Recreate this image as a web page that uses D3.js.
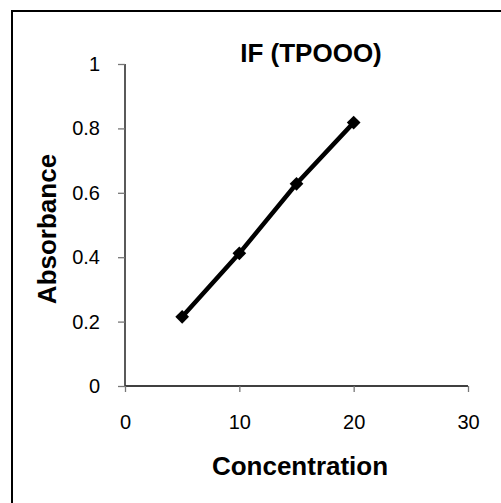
<!DOCTYPE html>
<html>
<head>
    <meta charset='utf-8'>
    <title>IF (TPOOO)</title>
    <script src='https://d3js.org/d3.v7.min.js'></script>
    <style>
        body { margin: 0; background: #fff; }
        text { font-family: 'Liberation Sans', Arial, sans-serif; fill: #000; }
    </style>
</head>
<body>
<div id='chart'></div>
<script type='text/javascript'>
    // dados
    let concentration = [5, 10, 15, 20];
    let absorbance = [0.215, 0.412, 0.628, 0.818];
    let xTicks = [0, 10, 20, 30];
    let yTicks = [0, 0.2, 0.4, 0.6, 0.8, 1];

    let W = 501, H = 503;
    let margin = {top: 64, right: 33, bottom: 117, left: 125};
    let w = W - margin.left - margin.right;
    let h = H - margin.top - margin.bottom;

    let root = d3.select('#chart')
        .append('svg')
            .attr('width', W)
            .attr('height', H);

    // moldura (cortada à direita e embaixo)
    root.append('rect')
        .attr('x', 12).attr('y', 11)
        .attr('width', 520).attr('height', 520)
        .attr('fill', 'none')
        .attr('stroke', '#000')
        .attr('stroke-width', 2);

    let svg = root.append('g')
        .attr('transform', `translate(${margin.left},${margin.top})`);

    let xScale = d3.scaleLinear().domain([0, 30]).range([0, w]);
    let yScale = d3.scaleLinear().domain([0, 1]).range([h, 0]);

    let xAxis = d3.axisBottom(xScale).tickValues(xTicks).tickSize(6).tickPadding(23).tickFormat(d3.format('d'));
    let yAxis = d3.axisLeft(yScale).tickValues(yTicks).tickSize(7).tickPadding(18).tickFormat(d => d === 0 || d === 1 ? d : d.toFixed(1));

    let gx = svg.append('g')
        .attr('transform', `translate(0,${h})`)
        .call(xAxis);
    let gy = svg.append('g').call(yAxis);

    [gx, gy].forEach(g => {
        g.select('.domain').attr('stroke', '#000').attr('stroke-width', 1.3);
        g.selectAll('.tick line').attr('stroke', '#777').attr('stroke-width', 1.3);
        g.selectAll('.tick text')
            .attr('font-family', "'Liberation Sans', Arial, sans-serif")
            .attr('font-size', '20px')
            .attr('fill', '#000');
    });
    gx.select('.domain').attr('d', `M0.5,0H${w}`);
    gy.select('.domain').attr('d', `M0,0V${h}`);

    // linha e marcadores
    let data = concentration.map((c, i) => [c, absorbance[i]]);

    let line = d3.line()
        .x(d => xScale(d[0]))
        .y(d => yScale(d[1]));

    svg.append('path')
        .datum(data)
        .attr('d', line)
        .attr('fill', 'none')
        .attr('stroke', '#000')
        .attr('stroke-width', 4.5);

    svg.selectAll('.marker')
        .data(data)
        .enter()
        .append('path')
            .attr('class', 'marker')
            .attr('d', d3.symbol(d3.symbolDiamond2, 120))
            .attr('transform', d => `translate(${xScale(d[0])},${yScale(d[1])})`)
            .attr('fill', '#000');

    // títulos
    svg.append('text')
        .attr('x', 186).attr('y', 62 - margin.top)
        .style('text-anchor', 'middle')
        .attr('font-weight', 'bold')
        .attr('font-size', '26px')
        .text('IF (TPOOO)');

    svg.append('text')
        .attr('x', 175).attr('y', 475 - margin.top)
        .style('text-anchor', 'middle')
        .attr('font-weight', 'bold')
        .attr('font-size', '26px')
        .text('Concentration');

    svg.append('text')
        .attr('transform', 'rotate(-90)')
        .attr('x', -(229 - margin.top))
        .attr('y', 56 - margin.left)
        .style('text-anchor', 'middle')
        .attr('font-weight', 'bold')
        .attr('font-size', '26px')
        .text('Absorbance');
</script>
</body>
</html>
